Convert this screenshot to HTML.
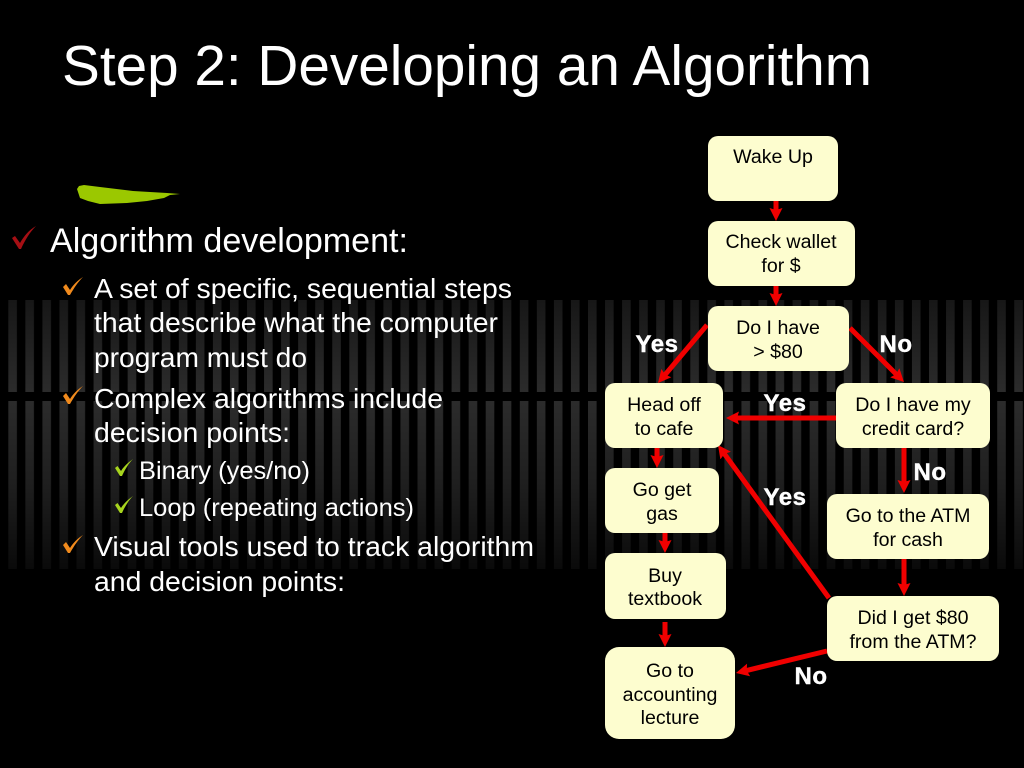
<!DOCTYPE html>
<html><head><meta charset="utf-8"><style>
html,body{margin:0;padding:0;background:#000;width:1024px;height:768px;overflow:hidden}
svg{display:block;font-family:"Liberation Sans",sans-serif}
</style></head><body>
<svg width="1024" height="768" viewBox="0 0 1024 768" xmlns="http://www.w3.org/2000/svg">
<defs>
<pattern id="st" x="8.3" y="0" width="17.05" height="10" patternUnits="userSpaceOnUse">
<rect width="8.6" height="10" fill="#fff"/>
</pattern>
<linearGradient id="f1" x1="0" y1="0" x2="0" y2="1">
<stop offset="0" stop-color="#fff" stop-opacity=".09"/><stop offset="1" stop-color="#fff" stop-opacity=".17"/>
</linearGradient>
<linearGradient id="f2" x1="0" y1="0" x2="0" y2="1">
<stop offset="0" stop-color="#fff" stop-opacity=".17"/><stop offset=".5" stop-color="#fff" stop-opacity=".12"/><stop offset="1" stop-color="#fff" stop-opacity=".04"/>
</linearGradient>
<mask id="m1"><rect x="0" y="300" width="1024" height="92" fill="url(#f1)"/></mask>
<mask id="m2"><rect x="0" y="401" width="1024" height="168" fill="url(#f2)"/></mask>
<marker id="a" markerUnits="userSpaceOnUse" markerWidth="14" markerHeight="14" refX="6" refY="6.5" orient="auto">
<path d="M0 0L13 6.5L0 13L2 6.5Z" fill="#f00000"/>
</marker>
</defs>
<rect width="1024" height="768" fill="#000"/>
<rect x="0" y="300" width="1024" height="92" fill="url(#st)" mask="url(#m1)"/>
<rect x="0" y="401" width="1024" height="168" fill="url(#st)" mask="url(#m2)"/>

<text x="62" y="85" font-size="56.5" fill="#fff" textLength="810" lengthAdjust="spacingAndGlyphs">Step 2: Developing an Algorithm</text>

<path d="M77 189L79 186L84 185L100 187L133 191L167 193L180 194L170 195L164 198L147 201L127 203L100 204L88 201L80 198Z" fill="#9bc800"/>

<path d="M12 238L15 236L20 243C24 236 29 230 36 226C30 232 25 240 21 249L19 249Z" fill="#a50f14"/>
<g fill="#f08a1d">
<path d="M63 287L66 284L70 290C73 285 78 280 83 277C78 282 74 288 70 295L68 295Z"/>
<path d="M63 396L66 393L70 399C73 394 78 389 83 386C78 391 74 397 70 404L68 404Z"/>
<path d="M63 545L66 542L70 548C73 543 78 538 83 535C78 540 74 546 70 553L68 553Z"/>
</g>
<g fill="#a7d41e">
<path d="M115 468L117.500 466L121 471C124 466 129 462 133 459C129 463 125 469 122 476L120 476Z"/>
<path d="M115 505L117.500 503L121 508C124 503 129 499 133 496C129 500 125 506 122 513L120 513Z"/>
</g>

<g fill="#fff">
<text x="50" y="252" font-size="34" textLength="358" lengthAdjust="spacingAndGlyphs">Algorithm development:</text>
<g font-size="28">
<text x="94" y="298" textLength="418" lengthAdjust="spacingAndGlyphs">A set of specific, sequential steps</text>
<text x="94" y="332" textLength="404" lengthAdjust="spacingAndGlyphs">that describe what the computer</text>
<text x="94" y="367" textLength="213" lengthAdjust="spacingAndGlyphs">program must do</text>
<text x="94" y="408" textLength="349" lengthAdjust="spacingAndGlyphs">Complex algorithms include</text>
<text x="94" y="442" textLength="196" lengthAdjust="spacingAndGlyphs">decision points:</text>
<text x="94" y="556" textLength="440" lengthAdjust="spacingAndGlyphs">Visual tools used to track algorithm</text>
<text x="94" y="591" textLength="251" lengthAdjust="spacingAndGlyphs">and decision points:</text>
</g>
<g font-size="25">
<text x="139" y="479" textLength="171" lengthAdjust="spacingAndGlyphs">Binary (yes/no)</text>
<text x="139" y="516" textLength="275" lengthAdjust="spacingAndGlyphs">Loop (repeating actions)</text>
</g>
</g>

<g stroke="#f00000" stroke-width="5" fill="none">
<line x1="776" y1="200" x2="776" y2="214" marker-end="url(#a)"/>
<line x1="776" y1="286" x2="776" y2="299" marker-end="url(#a)"/>
<line x1="707" y1="325" x2="662.5" y2="377.7" marker-end="url(#a)"/>
<line x1="850" y1="328" x2="899" y2="377" marker-end="url(#a)"/>
<line x1="836" y1="418" x2="733" y2="418" marker-end="url(#a)"/>
<line x1="657" y1="448" x2="657" y2="461" marker-end="url(#a)"/>
<line x1="904" y1="448" x2="904" y2="486" marker-end="url(#a)"/>
<line x1="665" y1="533" x2="665" y2="546" marker-end="url(#a)"/>
<line x1="665" y1="622" x2="665" y2="640" marker-end="url(#a)"/>
<line x1="904" y1="559" x2="904" y2="589" marker-end="url(#a)"/>
<line x1="829" y1="598" x2="722.1" y2="450.7" marker-end="url(#a)"/>
<line x1="827" y1="651" x2="742.8" y2="671.4" marker-end="url(#a)"/>
</g>

<g fill="#fdfdcf">
<rect x="708" y="136" width="130" height="65" rx="10"/>
<rect x="708" y="221" width="147" height="65" rx="10"/>
<rect x="708" y="306" width="141" height="65" rx="10"/>
<rect x="605" y="383" width="118" height="65" rx="10"/>
<rect x="836" y="383" width="154" height="65" rx="10"/>
<rect x="605" y="468" width="114" height="65" rx="10"/>
<rect x="827" y="494" width="162" height="65" rx="10"/>
<rect x="605" y="553" width="121" height="66" rx="10"/>
<rect x="827" y="596" width="172" height="65" rx="10"/>
<rect x="605" y="647" width="130" height="92" rx="14"/>
</g>

<g fill="#000" font-size="19.6" text-anchor="middle">
<text x="773" y="163">Wake Up</text>
<text x="781" y="248">Check wallet</text>
<text x="781" y="272">for $</text>
<text x="778" y="334">Do I have</text>
<text x="778" y="358">&gt; $80</text>
<text x="664" y="411">Head off</text>
<text x="664" y="435">to cafe</text>
<text x="913" y="411">Do I have my</text>
<text x="913" y="435">credit card?</text>
<text x="662" y="496">Go get</text>
<text x="662" y="520">gas</text>
<text x="908" y="522">Go to the ATM</text>
<text x="908" y="546">for cash</text>
<text x="665" y="582">Buy</text>
<text x="665" y="605">textbook</text>
<text x="913" y="624">Did I get $80</text>
<text x="913" y="648">from the ATM?</text>
<text x="670" y="677">Go to</text>
<text x="670" y="701">accounting</text>
<text x="670" y="724">lecture</text>
</g>

<g fill="#fff" font-size="24" font-weight="bold" text-anchor="middle" stroke="#fff" stroke-width=".4" letter-spacing=".5">
<text x="657" y="352">Yes</text>
<text x="896" y="352">No</text>
<text x="785" y="411">Yes</text>
<text x="930" y="480">No</text>
<text x="785" y="505">Yes</text>
<text x="811" y="684">No</text>
</g>
</svg>
</body></html>
